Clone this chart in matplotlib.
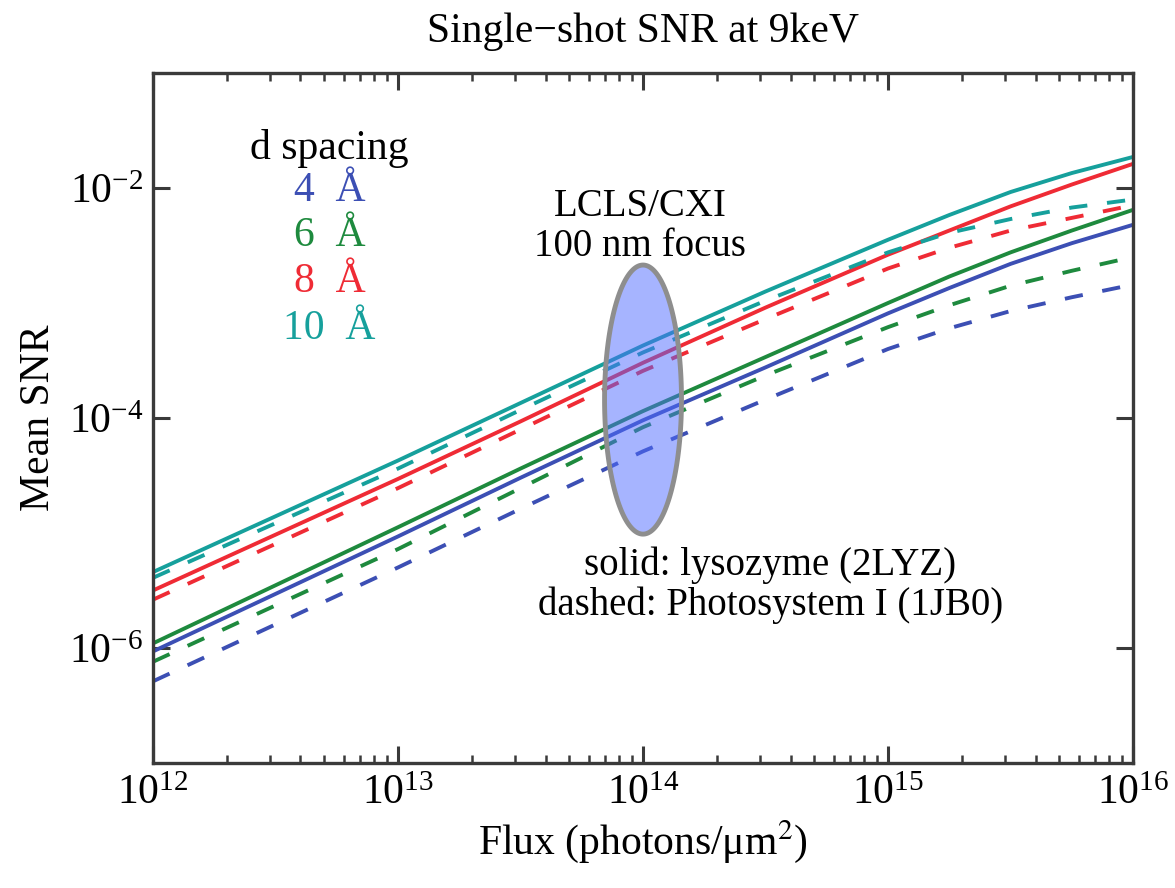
import numpy as np
import matplotlib
matplotlib.use('Agg')
import matplotlib.pyplot as plt
from matplotlib.ticker import NullLocator

plt.rcParams['font.family'] = ['Liberation Serif', 'DejaVu Serif']
plt.rcParams['mathtext.fontset'] = 'stix'

# flux points (photons/um^2) where the curves were read, as log10
log_flux = [12, 13, 13.5, 14, 14.5, 15, 15.25, 15.5, 15.75, 16]

# log10(mean SNR), solid = lysozyme (2LYZ), dashed = Photosystem I (1JB0)
lyso_4A = [-6.03, -5.03, -4.52, -4.02, -3.56, -3.09, -2.87, -2.66, -2.48, -2.32]
lyso_6A = [-5.96, -4.95, -4.44, -3.94, -3.47, -3.00, -2.77, -2.56, -2.37, -2.19]
lyso_8A = [-5.50, -4.53, -4.03, -3.52, -3.04, -2.58, -2.37, -2.16, -1.97, -1.79]
lyso_10A = [-5.34, -4.37, -3.87, -3.37, -2.90, -2.45, -2.235, -2.035, -1.87, -1.73]

psi_4A = [-6.29, -5.30, -4.79, -4.29, -3.84, -3.40, -3.22, -3.07, -2.95, -2.84]
psi_6A = [-6.12, -5.14, -4.61, -4.08, -3.63, -3.21, -3.02, -2.85, -2.72, -2.60]
psi_8A = [-5.58, -4.61, -4.10, -3.59, -3.14, -2.70, -2.52, -2.37, -2.26, -2.15]
psi_10A = [-5.39, -4.44, -3.93, -3.43, -2.98, -2.56, -2.39, -2.27, -2.17, -2.10]

spacings = ['4', '6', '8', '10']
colors = ['#3c4fb4', '#1e8a3e', '#ef2b35', '#16a09c']

# LCLS/CXI 100 nm focus region (centre and half sizes in decades)
focus_flux = 1e14
focus_snr = 10**-3.84
focus_dx = 0.157
focus_dy = 1.17

fig = plt.figure(figsize=(11.75, 8.88), dpi=100)
ax = fig.add_axes([0.1302, 0.1408, 0.8341, 0.7770])

flux = 10**np.array(log_flux)
lyso = [lyso_4A, lyso_6A, lyso_8A, lyso_10A]
psi = [psi_4A, psi_6A, psi_8A, psi_10A]
for i in range(4):
    ax.plot(flux, 10**np.array(lyso[i]), c=colors[i], lw=2.8)
    ax.plot(flux, 10**np.array(psi[i]), c=colors[i], lw=2.8, dashes=(4.7, 5.1))

t = np.linspace(0, 2*np.pi, 200)
ex = focus_flux * 10**(focus_dx*np.cos(t))
ey = focus_snr * 10**(focus_dy*np.sin(t))
ax.fill(ex, ey, facecolor=(0.31, 0.42, 1.0, 0.5), edgecolor='#8e8e8e', lw=3.5, zorder=3)

ax.set_xscale('log')
ax.set_yscale('log')
ax.set_xlim(1e12, 1e16)
ax.set_ylim(1e-7, 1e-1)
ax.set_yticks([1e-6, 1e-4, 1e-2])
ax.yaxis.set_minor_locator(NullLocator())

ax.tick_params(which='both', direction='in', top=True, right=True, labelsize=30,
               color='#3a3a3a')
ax.tick_params(which='major', length=12, width=2.2)
ax.tick_params(which='minor', length=6, width=1.8)
ax.tick_params(axis='x', pad=8)
ax.tick_params(axis='y', pad=7)
for s in ax.spines.values():
    s.set_linewidth(2.4)
    s.set_color('#3a3a3a')

ax.set_title('Single\u2212shot SNR at 9keV', fontsize=30, pad=22)
ax.set_xlabel('Flux (photons/\u03bcm$^{2}$)', fontsize=30, labelpad=4)
ax.set_ylabel('Mean SNR', fontsize=30, labelpad=8)

ax.text(0.18, 0.891, 'd spacing', transform=ax.transAxes, ha='center', va='center', fontsize=30)
ypos = [0.830, 0.764, 0.697, 0.630]
for i in range(4):
    ax.text(0.18, ypos[i], spacings[i] + '  \u00c5', transform=ax.transAxes,
            ha='center', va='center', fontsize=30, color=colors[i])

ax.text(0.497, 0.778, 'LCLS/CXI\n100 nm focus', transform=ax.transAxes,
        ha='center', va='center', fontsize=28, linespacing=1.1)
ax.text(0.63, 0.258, 'solid: lysozyme (2LYZ)\ndashed: Photosystem I (1JB0)',
        transform=ax.transAxes, ha='center', va='center', fontsize=28, linespacing=1.1)

fig.savefig('out.png', dpi=100)
